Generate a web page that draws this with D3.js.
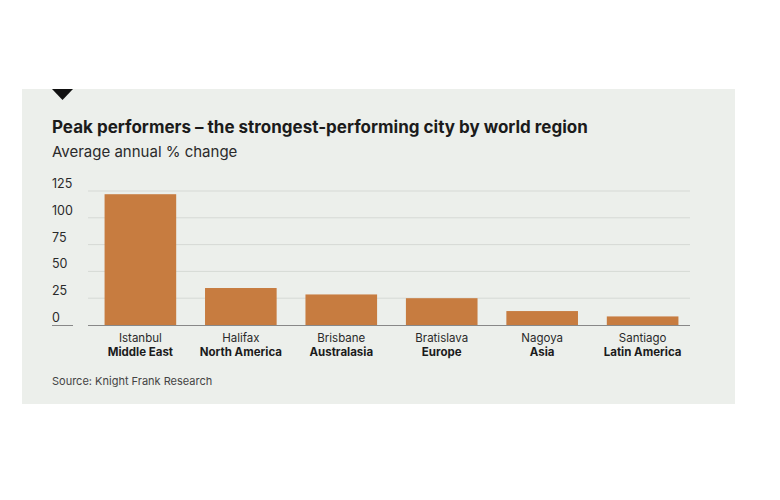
<!DOCTYPE html>
<html><head><meta charset="utf-8">
<script src="https://cdn.jsdelivr.net/npm/d3@7"></script>
<style>body{margin:0;background:#fff}</style></head>
<body><svg id="c" width="780" height="500"></svg>
<script>
const cities = ["Istanbul","Halifax","Brisbane","Bratislava","Nagoya","Santiago"];
const regions = ["Middle East","North America","Australasia","Europe","Asia","Latin America"];
const values = [122,34.5,28.5,25,13,8];
const ticks = [0,25,50,75,100,125];

const svg = d3.select("#c");
const font = "Inter, 'Noto Sans', sans-serif";
svg.append("rect").attr("x",22).attr("y",89).attr("width",713).attr("height",315).attr("fill","#ecefeb");
svg.append("path").attr("d","M52,89 L73,89 L62.5,100 Z").attr("fill","#111");
svg.append("text").attr("x",52).attr("y",133).attr("font-family",font).attr("font-weight",700)
  .attr("font-size",17).attr("fill","#1b1b1b").text("Peak performers – the strongest-performing city by world region");
svg.append("text").attr("x",52).attr("y",157).attr("font-family",font)
  .attr("font-size",15).attr("fill","#2a2a2a").text("Average annual % change");

const x = d3.scaleBand().domain(cities).range([88.5,694.5]).paddingInner(0.287).paddingOuter(0.16);
const y = d3.scaleLinear().domain([0,125]).range([325,191]);

const g = svg.append("g");
ticks.forEach(t=>{
  if(t>0) g.append("line").attr("x1",88).attr("x2",690).attr("y1",y(t)).attr("y2",y(t)).attr("stroke","#d6d9d5");
  g.append("text").attr("x",52).attr("y",y(t)-3).attr("font-family",font).attr("font-size",12.5)
   .attr("fill","#2a2a2a").text(t);
});
g.append("line").attr("x1",52).attr("x2",73).attr("y1",325.5).attr("y2",325.5).attr("stroke","#888");
g.selectAll("rect.b").data(values).join("rect").attr("class","b")
  .attr("x",(d,i)=>x(cities[i])).attr("width",x.bandwidth())
  .attr("y",d=>y(d)).attr("height",d=>y(0)-y(d)).attr("fill","#c77c40");
g.append("line").attr("x1",88).attr("x2",690).attr("y1",325.5).attr("y2",325.5).attr("stroke","#888");

cities.forEach((c,i)=>{
  const cx = x(c)+x.bandwidth()/2;
  g.append("text").attr("x",cx).attr("y",342).attr("text-anchor","middle").attr("font-family",font)
    .attr("font-size",11.5).attr("fill","#2a2a2a").text(c);
  g.append("text").attr("x",cx).attr("y",356).attr("text-anchor","middle").attr("font-family",font)
    .attr("font-size",11.5).attr("font-weight",700).attr("fill","#1b1b1b").text(regions[i]);
});
svg.append("text").attr("x",52).attr("y",385).attr("font-family",font).attr("font-size",11)
  .attr("fill","#444").text("Source: Knight Frank Research");
</script></body></html>
